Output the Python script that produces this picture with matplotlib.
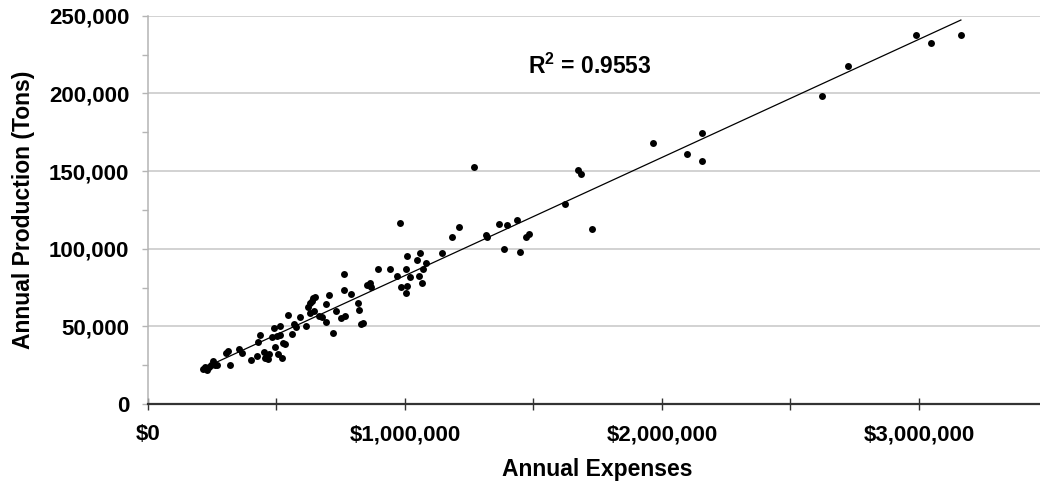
import numpy as np

import matplotlib
matplotlib.use('Agg')
import matplotlib.pyplot as plt
from matplotlib.ticker import FuncFormatter, MultipleLocator

# Annual expenses ($) and annual production (tons) for each facility
expenses = [214000, 222000, 230000, 237000, 245000, 253000, 261000, 268000, 302000, 310000,
            319000, 354000, 367000, 400000, 423000, 429000, 436000, 453000, 455000, 462000,
            468000, 471000, 481000, 491000, 494000, 501000, 507000, 514000, 514000, 520000,
            526000, 533000, 544000, 561000, 568000, 574000,
            591000, 615000, 624000, 630000, 637000, 643000, 650000, 632000, 645000, 665000,
            677000, 693000, 692000, 704000, 719000, 733000, 750000, 765000, 763000, 763000,
            789000, 816000, 821000, 830000, 837000, 853000, 864000, 868000, 894000, 942000,
            968000, 982000, 984000, 1002000, 1002000, 1007000, 1009000, 1019000, 1047000, 1054000,
            1060000, 1065000, 1072000, 1081000,
            1143000, 1184000, 1210000, 1268000, 1315000, 1320000, 1365000, 1387000, 1398000, 1435000,
            1449000, 1472000, 1484000, 1623000, 1672000, 1685000, 1729000, 1964000, 2096000, 2157000,
            2157000, 2623000, 2724000, 2989000, 3046000, 3163000]

production = [22500, 23800, 22200, 24100, 24800, 27700, 25400, 25400, 33000, 34100,
              25100, 35200, 33000, 28300, 31100, 40100, 44400, 33700, 29400, 31500,
              28800, 32200, 43300, 48700, 36500, 43800, 32200, 44400, 50200, 29400,
              39100, 38600, 57300, 45100, 51800, 49300,
              56000, 50200, 62600, 64800, 66600, 68200, 69200, 58800, 60200, 56700,
              56200, 53000, 64100, 70000, 45900, 60100, 55400, 56700, 83700, 73400,
              70700, 65000, 60500, 51200, 52200, 76800, 78100, 75300, 87100, 86700,
              82200, 116300, 75100, 87200, 71500, 76000, 95400, 81600, 92700, 82500,
              97400, 77700, 87200, 90600,
              97400, 107300, 113800, 152600, 108800, 107600, 115900, 100100, 115200, 118300,
              97700, 107700, 109300, 128800, 150500, 147900, 112500, 168200, 160800, 174700,
              156300, 198500, 217800, 237400, 232400, 237400]

r_squared_text = r'R$^{\mathbf{2}}$ = 0.9553'


def plot_expenses_vs_production(x_vals, y_vals):
    plt.rcParams['font.family'] = ['Liberation Sans', 'DejaVu Sans']
    plt.rcParams['font.weight'] = 'bold'
    plt.rcParams['mathtext.fontset'] = 'custom'
    plt.rcParams['mathtext.rm'] = 'Liberation Sans:bold'
    plt.rcParams['mathtext.bf'] = 'Liberation Sans:bold'

    fig = plt.figure(figsize=(10.4, 4.93), dpi=100)
    ax = fig.add_axes([0.1423, 0.1805, 0.8649, 0.7877])

    x = np.array(x_vals, dtype=float)
    y = np.array(y_vals, dtype=float)

    # Data points
    ax.plot(x, y, 'o', color='black', markersize=5, markeredgewidth=0, zorder=3)

    # Linear trendline over the data range
    slope, intercept = np.polyfit(x, y, 1)
    xs = np.array([x.min(), x.max()])
    ax.plot(xs, slope * xs + intercept, color='black', linewidth=0.9, zorder=2)

    ax.text(1.479e6, 212500, r_squared_text, fontsize=16.5, fontweight='bold',
            ha='left', va='baseline')

    ax.set_xlim(0, 3500000)
    ax.set_ylim(0, 250000)

    # Axis formatting
    ax.xaxis.set_major_locator(MultipleLocator(1000000))
    ax.xaxis.set_minor_locator(MultipleLocator(500000))
    ax.yaxis.set_major_locator(MultipleLocator(50000))
    ax.yaxis.set_minor_locator(MultipleLocator(25000))
    ax.xaxis.set_major_formatter(FuncFormatter(lambda v, p: f'${v:,.0f}'))
    ax.yaxis.set_major_formatter(FuncFormatter(lambda v, p: f'{v:,.0f}'))

    ax.grid(axis='y', which='major', color='#c6c6c6', linewidth=1.1)
    ax.set_axisbelow(True)

    for side in ['top', 'right']:
        ax.spines[side].set_visible(False)
    ax.spines['left'].set_color('#b4b4b4')
    ax.spines['left'].set_linewidth(1.1)
    ax.spines['bottom'].set_color('#333333')
    ax.spines['bottom'].set_linewidth(1.6)
    ax.spines['bottom'].set_zorder(4)

    ax.tick_params(axis='x', which='both', direction='inout', length=9, width=1,
                   color='#333333', labelsize=16, pad=10)
    ax.tick_params(axis='y', which='both', direction='out', length=4.5, width=1,
                   color='#b4b4b4', labelsize=16, pad=9)
    ax.tick_params(axis='y', which='minor', labelleft=False)

    ax.set_xlabel('Annual Expenses', fontsize=16.5, fontweight='bold', labelpad=9)
    ax.set_ylabel('Annual Production (Tons)', fontsize=16.5, fontweight='bold')
    ax.yaxis.set_label_coords(-0.1256, 0.5)

    return fig, ax


if __name__ == "__main__":
    fig, ax = plot_expenses_vs_production(expenses, production)
    plt.savefig('out.png', dpi=100)
